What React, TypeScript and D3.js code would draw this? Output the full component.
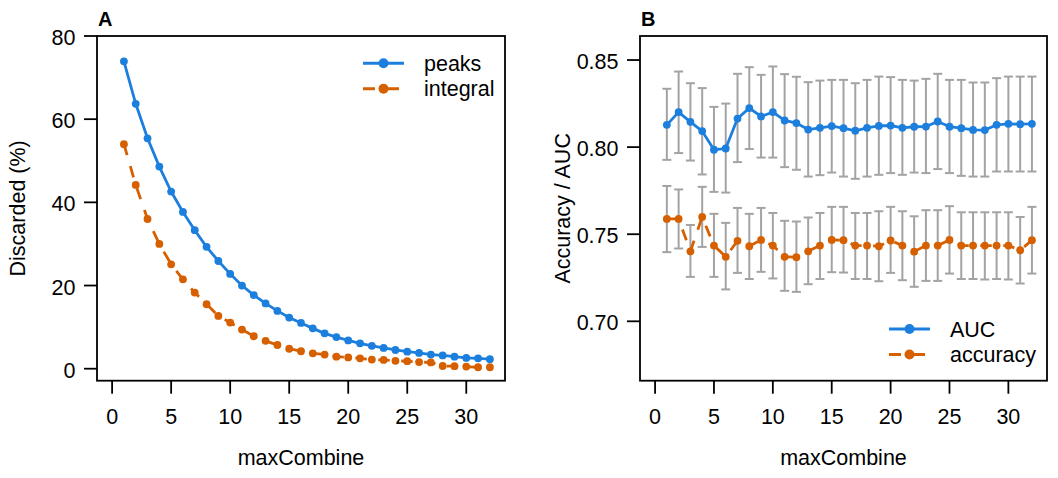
import React from "react";
import * as d3 from "d3";

// x values shared by both panels
const maxCombine = [
  1, 2, 3, 4, 5, 6, 7, 8, 9, 10, 11, 12, 13, 14, 15, 16,
  17, 18, 19, 20, 21, 22, 23, 24, 25, 26, 27, 28, 29, 30, 31, 32,
];

// panel A: discarded (%)
const peaks = [
  73.9, 63.7, 55.4, 48.6, 42.6, 37.7, 33.3, 29.3, 25.9, 22.8, 20.0, 17.7, 15.7, 13.9, 12.3, 11.0,
  9.7, 8.5, 7.6, 6.8, 6.1, 5.5, 5.0, 4.5, 4.1, 3.8, 3.4, 3.2, 2.9, 2.6, 2.5, 2.3,
];
const integral = [
  54.0, 44.2, 36.0, 30.0, 25.1, 21.5, 18.3, 15.5, 12.7, 11.1, 9.4, 7.8, 6.7, 5.7, 4.8, 4.2,
  3.7, 3.4, 2.9, 2.7, 2.5, 2.2, 2.1, 1.9, 1.8, 1.6, 1.5, 0.65, 0.6, 0.5, 0.35, 0.35,
];

// panel B: AUC and accuracy with error bars
const auc = [
  0.8128, 0.8201, 0.8145, 0.8092, 0.7985, 0.7992, 0.8164, 0.8224, 0.8176, 0.8201, 0.8153, 0.8138,
  0.8101, 0.8111, 0.8121, 0.8109, 0.8094, 0.8111, 0.8122, 0.8124, 0.8111, 0.8117, 0.8118, 0.8147,
  0.8117, 0.8109, 0.8099, 0.8098, 0.8128, 0.8134, 0.8132, 0.8134,
];
const aucHi = [
  0.8335, 0.8434, 0.8367, 0.8339, 0.8231, 0.825, 0.8421, 0.8459, 0.8415, 0.8463, 0.8419, 0.8404,
  0.8373, 0.8382, 0.8386, 0.8386, 0.8367, 0.8386, 0.8405, 0.8402, 0.8386, 0.8382, 0.8392, 0.8421,
  0.8386, 0.8386, 0.8371, 0.8371, 0.8396, 0.8405, 0.8405, 0.8405,
];
const aucLo = [
  0.7927, 0.7966, 0.7923, 0.7843, 0.7743, 0.7739, 0.7914, 0.7989, 0.794, 0.794, 0.7885, 0.787,
  0.7831, 0.7839, 0.7854, 0.7831, 0.7818, 0.7831, 0.7841, 0.7851, 0.7841, 0.7854, 0.7851, 0.7874,
  0.7851, 0.7835, 0.7831, 0.7831, 0.786, 0.786, 0.786, 0.786,
];
const accuracy = [
  0.7588, 0.7588, 0.7402, 0.7599, 0.7435, 0.737, 0.7462, 0.7431, 0.7467, 0.7435, 0.737, 0.7368,
  0.7402, 0.7435, 0.7467, 0.7466, 0.7435, 0.7435, 0.7431, 0.7464, 0.7435, 0.74, 0.7435, 0.7435,
  0.7467, 0.7435, 0.7435, 0.7435, 0.7435, 0.7435, 0.7408, 0.7466,
];
const accHi = [
  0.7777, 0.7757, 0.7553, 0.7772, 0.7617, 0.7565, 0.7651, 0.7617, 0.7651, 0.7622, 0.7577, 0.7573,
  0.7596, 0.7622, 0.7657, 0.7657, 0.7622, 0.7622, 0.7632, 0.7657, 0.7632, 0.7603, 0.7638, 0.7638,
  0.7661, 0.7626, 0.7626, 0.7626, 0.7626, 0.7626, 0.7599, 0.7657,
];
const accLo = [
  0.7397, 0.7418, 0.7255, 0.7427, 0.7255, 0.7183, 0.7278, 0.7243, 0.7284, 0.7246, 0.7175, 0.7169,
  0.7213, 0.7243, 0.7282, 0.728, 0.7243, 0.7243, 0.723, 0.7278, 0.7236, 0.7198, 0.7232, 0.7232,
  0.7274, 0.7243, 0.7243, 0.724, 0.7243, 0.724, 0.7217, 0.7274,
];

const xTicks = [0, 5, 10, 15, 20, 25, 30];
const yTicksA = [0, 20, 40, 60, 80];
const yTicksB = [0.7, 0.75, 0.8, 0.85];

const BLUE = "#1c7fdd";
const ORANGE = "#d66000";
const GREY = "#a3a3a3";
const FONT = "'Liberation Sans', Arial, Helvetica, sans-serif";
const FS = 21.5;
const DASH = "11.5,11.5";

interface Series {
  name: string;
  values: number[];
  color: string;
  dashed: boolean;
  lo?: number[];
  hi?: number[];
}

interface PanelProps {
  letter: string;
  left: number;
  right: number;
  yDomain: [number, number];
  yTicks: number[];
  yFormat: (v: number) => string;
  yTitle: string;
  yTitleX: number;
  series: Series[];
  legendX: number;
  legendY: number;
}

const top = 36;
const bottom = 380.7;

const Panel: React.FC<PanelProps> = (p) => {
  const x = d3.scaleLinear().domain([-1.28, 33.28]).range([p.left, p.right]);
  const y = d3.scaleLinear().domain(p.yDomain).range([bottom, top]);
  const line = d3
    .line<number>()
    .x((_, i) => x(maxCombine[i]))
    .y((d) => y(d));

  return (
    <g fontFamily={FONT} fontSize={FS}>
      {/* error bars first so the lines sit on top */}
      {p.series.map((s) =>
        s.lo && s.hi
          ? maxCombine.map((m, i) => (
              <g key={s.name + m} stroke={GREY} strokeWidth={2}>
                <line x1={x(m)} x2={x(m)} y1={y(s.lo![i])} y2={y(s.hi![i])} />
                <line x1={x(m) - 4.5} x2={x(m) + 4.5} y1={y(s.lo![i])} y2={y(s.lo![i])} />
                <line x1={x(m) - 4.5} x2={x(m) + 4.5} y1={y(s.hi![i])} y2={y(s.hi![i])} />
              </g>
            ))
          : null
      )}
      {p.series.map((s) => (
        <g key={s.name}>
          <path
            d={line(s.values) || ""}
            fill="none"
            stroke={s.color}
            strokeWidth={2.8}
            strokeDasharray={s.dashed ? DASH : undefined}
          />
          {s.values.map((v, i) => (
            <circle key={i} cx={x(maxCombine[i])} cy={y(v)} r={3.9} fill={s.color} />
          ))}
        </g>
      ))}

      {/* box */}
      <rect
        x={p.left}
        y={top}
        width={p.right - p.left}
        height={bottom - top}
        fill="none"
        stroke="#000"
        strokeWidth={1.8}
      />

      {/* x axis */}
      {xTicks.map((t) => (
        <g key={t}>
          <line x1={x(t)} x2={x(t)} y1={bottom} y2={bottom + 13} stroke="#000" strokeWidth={1.8} />
          <text x={x(t)} y={424} textAnchor="middle">
            {t}
          </text>
        </g>
      ))}
      <text x={(p.left + p.right) / 2} y={464.5} textAnchor="middle">
        maxCombine
      </text>

      {/* y axis */}
      {p.yTicks.map((t) => (
        <g key={t}>
          <line x1={p.left - 13} x2={p.left} y1={y(t)} y2={y(t)} stroke="#000" strokeWidth={1.8} />
          <text x={p.left - 21.5} y={y(t) + 9} textAnchor="end">
            {p.yFormat(t)}
          </text>
        </g>
      ))}
      <text
        transform={`translate(${p.yTitleX},${(top + bottom) / 2}) rotate(-90)`}
        textAnchor="middle"
      >
        {p.yTitle}
      </text>

      <text x={p.left + 1} y={26} fontWeight="bold" fontSize={20}>
        {p.letter}
      </text>

      {/* legend */}
      {p.series.map((s, i) => {
        const ly = p.legendY + i * 25.5;
        return (
          <g key={"lg" + s.name}>
            <line
              x1={p.legendX}
              x2={p.legendX + 41}
              y1={ly}
              y2={ly}
              stroke={s.color}
              strokeWidth={3}
              strokeDasharray={s.dashed ? "12,12" : undefined}
            />
            <circle cx={p.legendX + 20.5} cy={ly} r={5} fill={s.color} />
            <text x={p.legendX + 61} y={ly + 7.5}>
              {s.name}
            </text>
          </g>
        );
      })}
    </g>
  );
};

export default function App() {
  return (
    <svg
      width={1058}
      height={478}
      style={{ position: "absolute", left: 0, top: 0, background: "#fff" }}
    >
      <Panel
        letter="A"
        left={97}
        right={505}
        yDomain={[-2.885, 80]}
        yTicks={yTicksA}
        yFormat={(v) => String(v)}
        yTitle="Discarded (%)"
        yTitleX={24.5}
        legendX={363}
        legendY={63.3}
        series={[
          { name: "peaks", values: peaks, color: BLUE, dashed: false },
          { name: "integral", values: integral, color: ORANGE, dashed: true },
        ]}
      />
      <Panel
        letter="B"
        left={640}
        right={1047}
        yDomain={[0.6659, 0.8638]}
        yTicks={yTicksB}
        yFormat={d3.format(".2f")}
        yTitle="Accuracy / AUC"
        yTitleX={570}
        legendX={889}
        legendY={329}
        series={[
          { name: "AUC", values: auc, color: BLUE, dashed: false, lo: aucLo, hi: aucHi },
          { name: "accuracy", values: accuracy, color: ORANGE, dashed: true, lo: accLo, hi: accHi },
        ]}
      />
    </svg>
  );
}
